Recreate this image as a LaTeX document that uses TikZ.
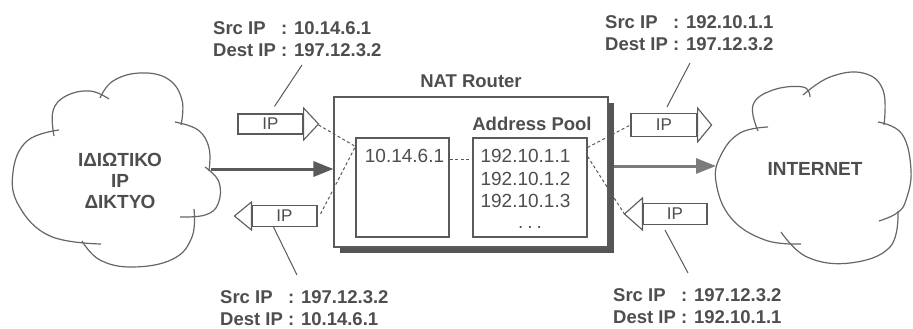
\documentclass[tikz,border=0pt]{standalone}
\usepackage{fontspec}
\setmainfont{Liberation Sans}
\usetikzlibrary{arrows.meta,calc}
\definecolor{txt}{HTML}{4E4E4E}
\definecolor{ln}{HTML}{5A5A5A}
\definecolor{shd}{HTML}{555555}
\definecolor{cloudc}{HTML}{666666}
\begin{document}
\begin{tikzpicture}[x=1pt,y=-1pt,
  lbl/.style={font=\fontsize{18.5}{22}\selectfont\bfseries, text=txt, inner sep=0pt, anchor=base west},
  boxtxt/.style={font=\fontsize{19}{22}\selectfont, text=txt, inner sep=0pt, anchor=base},
  title/.style={font=\fontsize{18.5}{22}\selectfont\bfseries, text=txt, inner sep=0pt, anchor=base},
  cloudtxt/.style={font=\fontsize{19}{21}\selectfont\bfseries, text=txt, inner sep=0pt, align=center},
  pkt/.style={draw=ln, line width=1.1pt, fill=white, inner sep=0pt, minimum height=21pt, minimum width=65pt, font=\fontsize{17}{20}\selectfont, text=txt},
  pkthead/.style={draw=ln, line width=1.1pt, fill=white, line join=miter},
  lobe/.style={draw=cloudc, line width=1.2pt},
  thick arrow/.style={draw=#1, line width=3pt, -{Triangle[length=20pt,width=15pt]}},
  conn/.style={draw=ln, line width=1pt, dash pattern=on 3pt off 2.5pt},
  leader/.style={draw=ln, line width=1pt},
  ibox/.style={draw=ln, line width=1.1pt, fill=white, inner sep=0pt}
]
\useasboundingbox (0,0) rectangle (913,329);
\fill[white] (0,0) rectangle (913,329);

% ---------- left cloud ----------
\draw[lobe] plot[smooth, tension=0.7] coordinates {(54,136) (53,111) (66,96) (90,91) (109,99)};
\draw[lobe] plot[smooth, tension=0.7] coordinates {(100,98) (113,81) (140,73) (168,79) (182,100) (181,125)};
\draw[lobe] plot[smooth, tension=0.7] coordinates {(175,122) (198,130) (209,148) (209,171)};
\draw[lobe] plot[smooth, tension=0.7] coordinates {(205,167) (219,182) (218,204) (205,215) (180,217)};
\draw[lobe] plot[smooth, tension=0.7] coordinates {(194,209) (192,237) (173,259) (133,267) (100,260) (82,241)};
\draw[lobe] plot[smooth, tension=0.7] coordinates {(101,244) (50,236) (19,206) (13,172) (27,141) (59,130)};
\node[cloudtxt] (priv net) at (120,181) {ΙΔΙΩΤΙΚΟ\\IP\\ΔΙΚΤΥΟ};
\coordinate (lcloudE) at (211,169);

% ---------- right cloud ----------
\draw[lobe] plot[smooth, tension=0.7] coordinates {(768,127) (740,133) (721,155) (716,182) (731,218) (765,240) (801,244)};
\draw[lobe] plot[smooth, tension=0.7] coordinates {(758,131) (753,105) (773,90) (803,87) (810,97)};
\draw[lobe] plot[smooth, tension=0.7] coordinates {(803,95) (830,77) (863,73) (883,90) (884,125)};
\draw[lobe] plot[smooth, tension=0.7] coordinates {(878,122) (902,134) (911,170) (906,200) (897,213) (879,221)};
\draw[lobe] plot[smooth, tension=0.7] coordinates {(898,211) (890,247) (850,263) (807,257) (781,232)};
\node[cloudtxt] (internet) at (815,169) {INTERNET};
\coordinate (rcloudW) at (716,166);

% ---------- NAT router ----------
\fill[shd] (340,103) rectangle (614,253);
\node[ibox, minimum width=274pt, minimum height=150pt] (router) at (471,172) {};
\node[title] (rtitle) at (471,88) {NAT Router};
\node[title] (pooltitle) at (532,130) {Address Pool};
\node[ibox, minimum width=93pt, minimum height=99pt] (priv) at (402.5,187.5) {};
\node[ibox, minimum width=114pt, minimum height=99pt] (pool) at (530,187.5) {};
\node[boxtxt] (a0) at (404.5,162) {10.14.6.1};
\node[boxtxt] (a1) at (525.5,162) {192.10.1.1};
\node[boxtxt] (a2) at (525.5,185) {192.10.1.2};
\node[boxtxt] (a3) at (525.5,207.5) {192.10.1.3};
\node[boxtxt] (a4) at (530,228) {.\hspace{4pt}.\hspace{4pt}.};
\draw[conn] (priv.north east |- a0.mid) -- (pool.north west |- a0.mid);

% ---------- thick arrows ----------
\draw[thick arrow=ln] (lcloudE) -- (router.west |- lcloudE);
\draw[thick arrow=ln!80] (614,166) -- (rcloudW);

% ---------- packets ----------
\node[pkt, minimum height=20pt] (p1) at (270.5,124) {IP};
\draw[pkthead] ($(p1.east)+(0,-16)$) -- ($(p1.east)+(15,0)$) -- ($(p1.east)+(0,16)$) -- cycle;
\node[pkt] (p2) at (284.5,216) {IP};
\draw[pkthead] ($(p2.west)+(0,-14)$) -- ($(p2.west)+(-17,0)$) -- ($(p2.west)+(0,14)$) -- cycle;
\node[pkt, minimum height=23pt, minimum width=66pt] (p3) at (664,125) {IP};
\draw[pkthead] ($(p3.east)+(0,-17)$) -- ($(p3.east)+(14,0)$) -- ($(p3.east)+(0,17)$) -- cycle;
\node[pkt, minimum width=64pt] (p4) at (675,214) {IP};
\draw[pkthead] ($(p4.west)+(0,-16)$) -- ($(p4.west)+(-18,0)$) -- ($(p4.west)+(0,16)$) -- cycle;

% ---------- dashed links ----------
\coordinate (privL) at ($(priv.north west)+(0,9)$);
\coordinate (poolR1) at ($(pool.north east)+(0,10)$);
\coordinate (poolR2) at ($(pool.north east)+(0,19)$);
\draw[conn] ($(p1.east)+(15,1)$) -- (privL);
\draw[conn] ($(p2.east)+(3,-2)$) -- (privL);
\draw[conn] (poolR1) -- (p3.west);
\draw[conn] (poolR2) -- ($(p4.west)+(-18,0)$);

% ---------- labels ----------
\node[lbl] (l1) at (213,35) {\begin{tabular}[t]{@{}l@{\ }l@{}}Src IP & : 10.14.6.1\\ Dest IP & : 197.12.3.2\end{tabular}};
\node[lbl] (l2) at (605,29) {\begin{tabular}[t]{@{}l@{\ }l@{}}Src IP & : 192.10.1.1\\ Dest IP & : 197.12.3.2\end{tabular}};
\node[lbl] (l3) at (220,303) {\begin{tabular}[t]{@{}l@{\ }l@{}}Src IP & : 197.12.3.2\\ Dest IP & : 10.14.6.1\end{tabular}};
\node[lbl] (l4) at (613,301) {\begin{tabular}[t]{@{}l@{\ }l@{}}Src IP & : 197.12.3.2\\ Dest IP & : 192.10.1.1\end{tabular}};

% ---------- leader lines ----------
\coordinate (k1) at (302,65);
\coordinate (k2) at (690,63);
\coordinate (k3) at (297,275);
\coordinate (k4) at (688,273);
\draw[leader] (k1) -- ($(p1.north)+(4,-7)$);
\draw[leader] (k2) -- ($(p3.north)+(3,-6)$);
\draw[leader] ($(p2.south)+(-11,0)$) -- (k3);
\draw[leader] ($(p4.south)+(-10,5)$) -- (k4);
\end{tikzpicture}
\end{document}
